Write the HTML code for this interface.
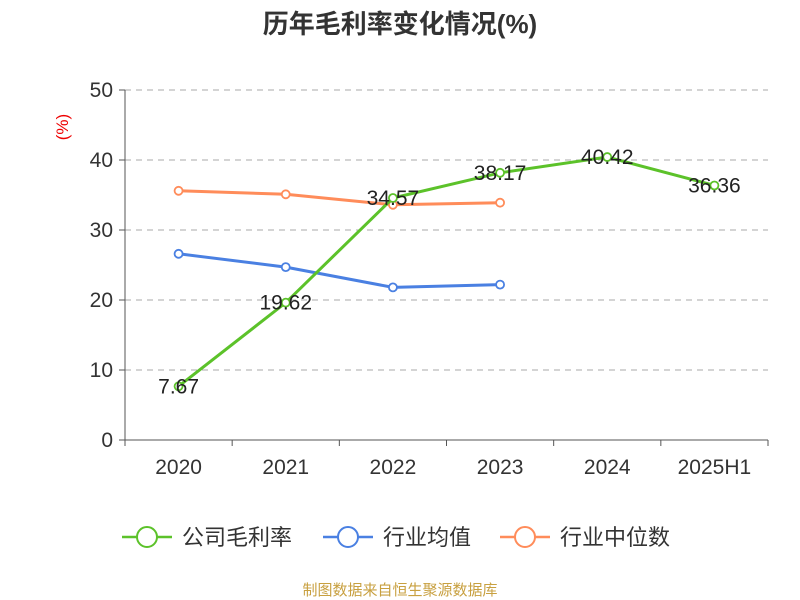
<!DOCTYPE html>
<html><head><meta charset="utf-8"><style>
body{margin:0;background:#fff;}
svg{display:block;font-family:"Liberation Sans","Noto Sans CJK SC",sans-serif;}
</style></head><body>
<svg id="chart" width="800" height="600">
<text x="400" y="33" text-anchor="middle" font-size="26" font-weight="bold" fill="#333">历年毛利率变化情况(%)</text>
<text x="68" y="127" text-anchor="middle" font-size="17" fill="#e00" transform="rotate(-90 68 127)">(%)</text>
<g id="grid"></g><g id="axes"></g><g id="series"></g>
<g>
 <g><line x1="122" y1="537" x2="172" y2="537" stroke="#5cc22a" stroke-width="2.5"/><circle cx="147" cy="537" r="10" fill="#fff" stroke="#5cc22a" stroke-width="2"/><text x="182" y="545" font-size="22" fill="#333">公司毛利率</text></g>
 <g><line x1="323" y1="537" x2="373" y2="537" stroke="#4a80e2" stroke-width="2.5"/><circle cx="348" cy="537" r="10" fill="#fff" stroke="#4a80e2" stroke-width="2"/><text x="383" y="545" font-size="22" fill="#333">行业均值</text></g>
 <g><line x1="500" y1="537" x2="550" y2="537" stroke="#ff8c5a" stroke-width="2.5"/><circle cx="525" cy="537" r="10" fill="#fff" stroke="#ff8c5a" stroke-width="2"/><text x="560" y="545" font-size="22" fill="#333">行业中位数</text></g>
</g>
<text x="400" y="595" text-anchor="middle" font-size="15" fill="#c8a040">制图数据来自恒生聚源数据库</text>
</svg>
<script>
const categories=["2020","2021","2022","2023","2024","2025H1"];
const companyValues=[7.67,19.62,34.57,38.17,40.42,36.36];
const industryAvg=[26.6,24.7,21.8,22.2];
const industryMedian=[35.6,35.1,33.6,33.9];
const yTicks=[0,10,20,30,40,50];
const NS="http://www.w3.org/2000/svg";
const x0=125,x1=768,y0=440,y1=90;
const bw=(x1-x0)/categories.length;
const xs=i=>x0+bw*(i+0.5);
const ys=v=>y0-(v/50)*(y0-y1);
function mk(tag,attrs,parent){const e=document.createElementNS(NS,tag);for(const k in attrs)e.setAttribute(k,attrs[k]);parent.appendChild(e);return e;}
const grid=document.getElementById('grid'),axes=document.getElementById('axes'),series=document.getElementById('series');
yTicks.forEach(t=>{
 if(t>0){const g=mk('line',{x1:x0,x2:x1,y1:ys(t),y2:ys(t),stroke:'#aaa','stroke-dasharray':'6,5'},grid);
 
 }
 const tk=mk('line',{x1:x0-6,x2:x0,y1:ys(t),y2:ys(t),stroke:'#555'},axes);
 
 
 const l=mk('text',{x:x0-12,y:ys(t)+7,'text-anchor':'end','font-size':'21',fill:'#333'},axes);l.textContent=t;
 
 
});
const ya=mk('line',{x1:x0,x2:x0,y1:y1,y2:y0,stroke:'#555'},axes);


const xa=mk('line',{x1:x0,x2:x1,y1:y0,y2:y0,stroke:'#555'},axes);


for(let i=0;i<=categories.length;i++){const t=mk('line',{x1:x0+bw*i,x2:x0+bw*i,y1:y0,y2:y0+6,stroke:'#555'},axes);
 
 }
categories.forEach((c,i)=>{const l=mk('text',{x:xs(i),y:474,'text-anchor':'middle','font-size':'21',fill:'#333'},axes);l.textContent=c;
 
 });
function draw(vals,color,name){
 const p=mk('polyline',{points:vals.map((v,i)=>xs(i)+','+ys(v)).join(' '),fill:'none',stroke:color,'stroke-width':'3'},series);
 
 
 vals.forEach((v,i)=>{const c=mk('circle',{cx:xs(i),cy:ys(v),r:4,fill:'#fff',stroke:color,'stroke-width':'1.8'},series);
  
  });
}
draw(industryAvg,'#4a80e2','industry-avg');
draw(industryMedian,'#ff8c5a','industry-median');
draw(companyValues,'#5cc22a','company');
companyValues.forEach((v,i)=>{const t=mk('text',{x:xs(i),y:ys(v)+7,'text-anchor':'middle','font-size':'21',fill:'#222'},series);t.textContent=v.toFixed(2);
 
 });
</script>
</body></html>
